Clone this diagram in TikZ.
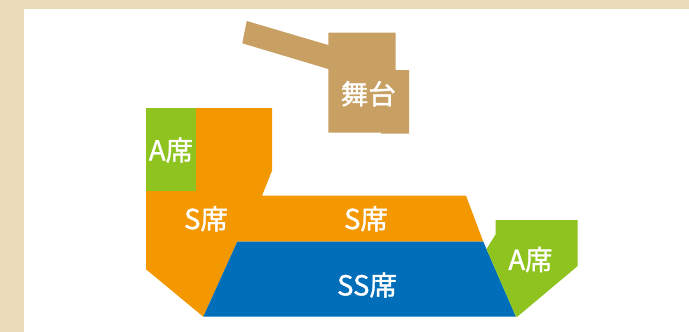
\documentclass[tikz,border=0pt]{standalone}
\usepackage{fontspec}
\setmainfont{Noto Sans CJK JP}[FakeBold=1.2]
\definecolor{rahmen}{RGB}{235,220,185}
\definecolor{buehnenfarbe}{RGB}{200,160,100}
\definecolor{sorange}{RGB}{243,152,0}
\definecolor{agruen}{RGB}{143,195,31}
\definecolor{ssblau}{RGB}{0,110,184}
\tikzset{
  platz/.style={text=white, inner sep=0pt, font=\fontsize{27.5}{27.5}\selectfont}
}
\begin{document}
\begin{tikzpicture}[x=1pt,y=-1pt,line join=miter]
	\useasboundingbox (0,0) rectangle (689,332);
	% Rahmen
	\fill [color = rahmen] (0,0) rectangle (689,332);
	\fill [color = white] (24,9) rectangle (689,332);
	% Bühne
	\fill [color = buehnenfarbe] (246.7,21) -- (335,47) -- (335,71) -- (242.3,43.3) -- cycle;
	\fill [color = buehnenfarbe] (328.3,32.7) -- (395.7,32.7) -- (395.7,70) -- (409,70) -- (409,133.7)
		-- (381,133.7) -- (381,132.7) -- (328.3,132.7) -- cycle;
	\node [platz] (buehne) at (368.3,93.7) {舞台};
	% S-Plätze
	\fill [color = sorange] (146,108) -- (272,108) -- (272,170.7) -- (262,195.7) -- (466,195.7)
		-- (483.3,241.7) -- (237.3,241.7) -- (203.3,316.7) -- (146,269.3) -- cycle;
	% SS-Plätze
	\fill [color = ssblau] (237.3,241.7) -- (483.3,241.7) -- (516,316.7) -- (203.3,316.7) -- cycle;
	% A-Plätze
	\fill [color = agruen] (146,108) rectangle (195.5,191);
	\fill [color = agruen] (495.7,220) -- (577.7,220) -- (577.7,266) -- (517.3,316.7) -- (516,316.7)
		-- (486.5,249) -- (495.7,234.3) -- cycle;
	% Beschriftungen
	\node [platz] (alinks) at (171,150) {A席};
	\node [platz] (slinks) at (206,218.7) {S席};
	\node [platz] (smitte) at (366,218.7) {S席};
	\node [platz] (ss) at (367,285) {SS席};
	\node [platz] (arechts) at (530.5,259.5) {A席};
\end{tikzpicture}
\end{document}
